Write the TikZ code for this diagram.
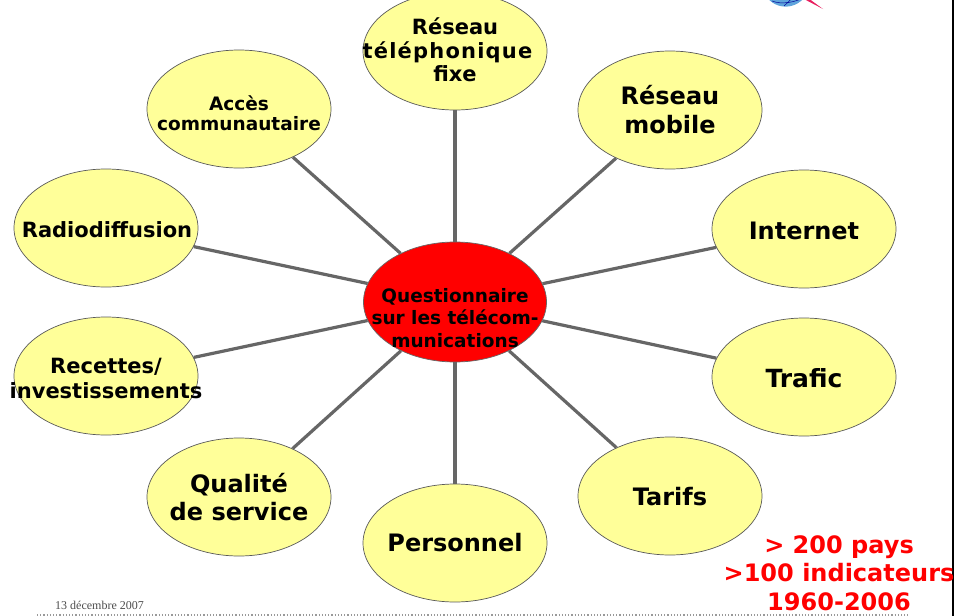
\documentclass[tikz,border=0pt]{standalone}
\usepackage{fontspec}
\setmainfont{DejaVu Sans}
\newfontfamily\datefont{Liberation Serif}
\usetikzlibrary{shapes.geometric}
\definecolor{paleyellow}{HTML}{FFFF99}
\definecolor{linkgray}{HTML}{666666}
\definecolor{globeblue}{HTML}{5FA5DC}
\definecolor{globepink}{HTML}{E8205F}
\newcommand{\fs}[2]{\fontsize{#1}{#2}\selectfont}
\tikzset{
  topic/.style={ellipse,draw=black!65,line width=0.7pt,fill=paleyellow,inner sep=0pt,minimum width=184pt,minimum height=118pt},
  hub/.style={ellipse,draw=linkgray,line width=0.7pt,fill=red,inner sep=0pt,minimum width=183pt,minimum height=120pt},
  link/.style={draw=linkgray,line width=3.2pt},
  lab/.style 2 args={inner sep=0pt,align=center,font=\bfseries\fs{#1}{#2}},
}
\begin{document}
\begin{tikzpicture}[x=1pt,y=-1pt]
\useasboundingbox (0,0) rectangle (954,616);
% logo fragment
\fill[globeblue] (764,-8) .. controls (772,11) and (798,12) .. (808,-8) -- cycle;
\draw[blue!60!black,line width=0.5pt] (772,1) .. controls (782,5) and (795,2) .. (803,-2);
\draw[blue!60!black,line width=0.5pt] (784,6) .. controls (787,3) and (790,1) .. (792,-2);
\fill[globepink] (802,-2) -- (808,-2) -- (823,9) -- cycle;
\draw[black,line width=1.6pt] (953,0) -- (953,616);
% nodes
\coordinate (hubc) at (455,302);
\node[topic] (fixe) at (455,51) {};
\node[topic] (acces) at (239,109) {};
\node[topic] (mobile) at (670,110) {};
\node[topic] (internet) at (804,229) {};
\node[topic] (radio) at (106,228) {};
\node[topic] (trafic) at (804,377) {};
\node[topic] (recettes) at (106,376) {};
\node[topic] (qualite) at (239,497) {};
\node[topic] (tarifs) at (670,496) {};
\node[topic] (personnel) at (455,543) {};
\node[hub] (hub) at (hubc) {};
\foreach \t in {fixe,acces,mobile,internet,radio,trafic,recettes,qualite,tarifs,personnel}
  \draw[link] (hub) -- (\t);
% labels
\node[lab={21}{23.5pt}] (lfixe) at (455,50) {Réseau\\\mbox{\addfontfeature{LetterSpace=5.7}téléphonique}\mbox{\hspace{15pt}}\\fixe};
\node[lab={18.5}{20pt}] (lacces) at (239,113) {Accès\\communautaire};
\node[lab={24}{29pt}] (lmobile) at (670,110) {Réseau\\mobile};
\node[lab={24}{29pt}] (linternet) at (804,231) {Internet};
\node[lab={21}{26pt}] (lradio) at (107,230) {Radiodiffusion};
\node[lab={25}{29pt}] (ltrafic) at (804,378) {Trafic};
\node[lab={21}{25pt}] (lrecettes) at (106,378) {Recettes/\\investissements};
\node[lab={24}{28pt}] (lqualite) at (239,497) {Qualité\\de service};
\node[lab={24}{29pt}] (ltarifs) at (670,496.5) {Tarifs};
\node[lab={24}{29pt}] (lpersonnel) at (455,543) {Personnel};
\node[lab={18.5}{22.5pt}] (lhub) at (455,318) {Questionnaire\\sur les télécom-\\munications};
\node[lab={24}{28.5pt},text=red] (lstats) at (839,573) {> 200 pays\\>100 indicateurs\\1960-2006};
\node[inner sep=0pt,anchor=base west,text=black!70,font=\datefont\fs{12}{14}] (ldate) at (55,609) {13 décembre 2007};
\coordinate (ruleL) at (37,615);
\coordinate (ruleR) at (908,615);
\draw[black!40,line width=1.2pt,dotted] (ruleL) -- (ruleR);
\end{tikzpicture}
\end{document}
